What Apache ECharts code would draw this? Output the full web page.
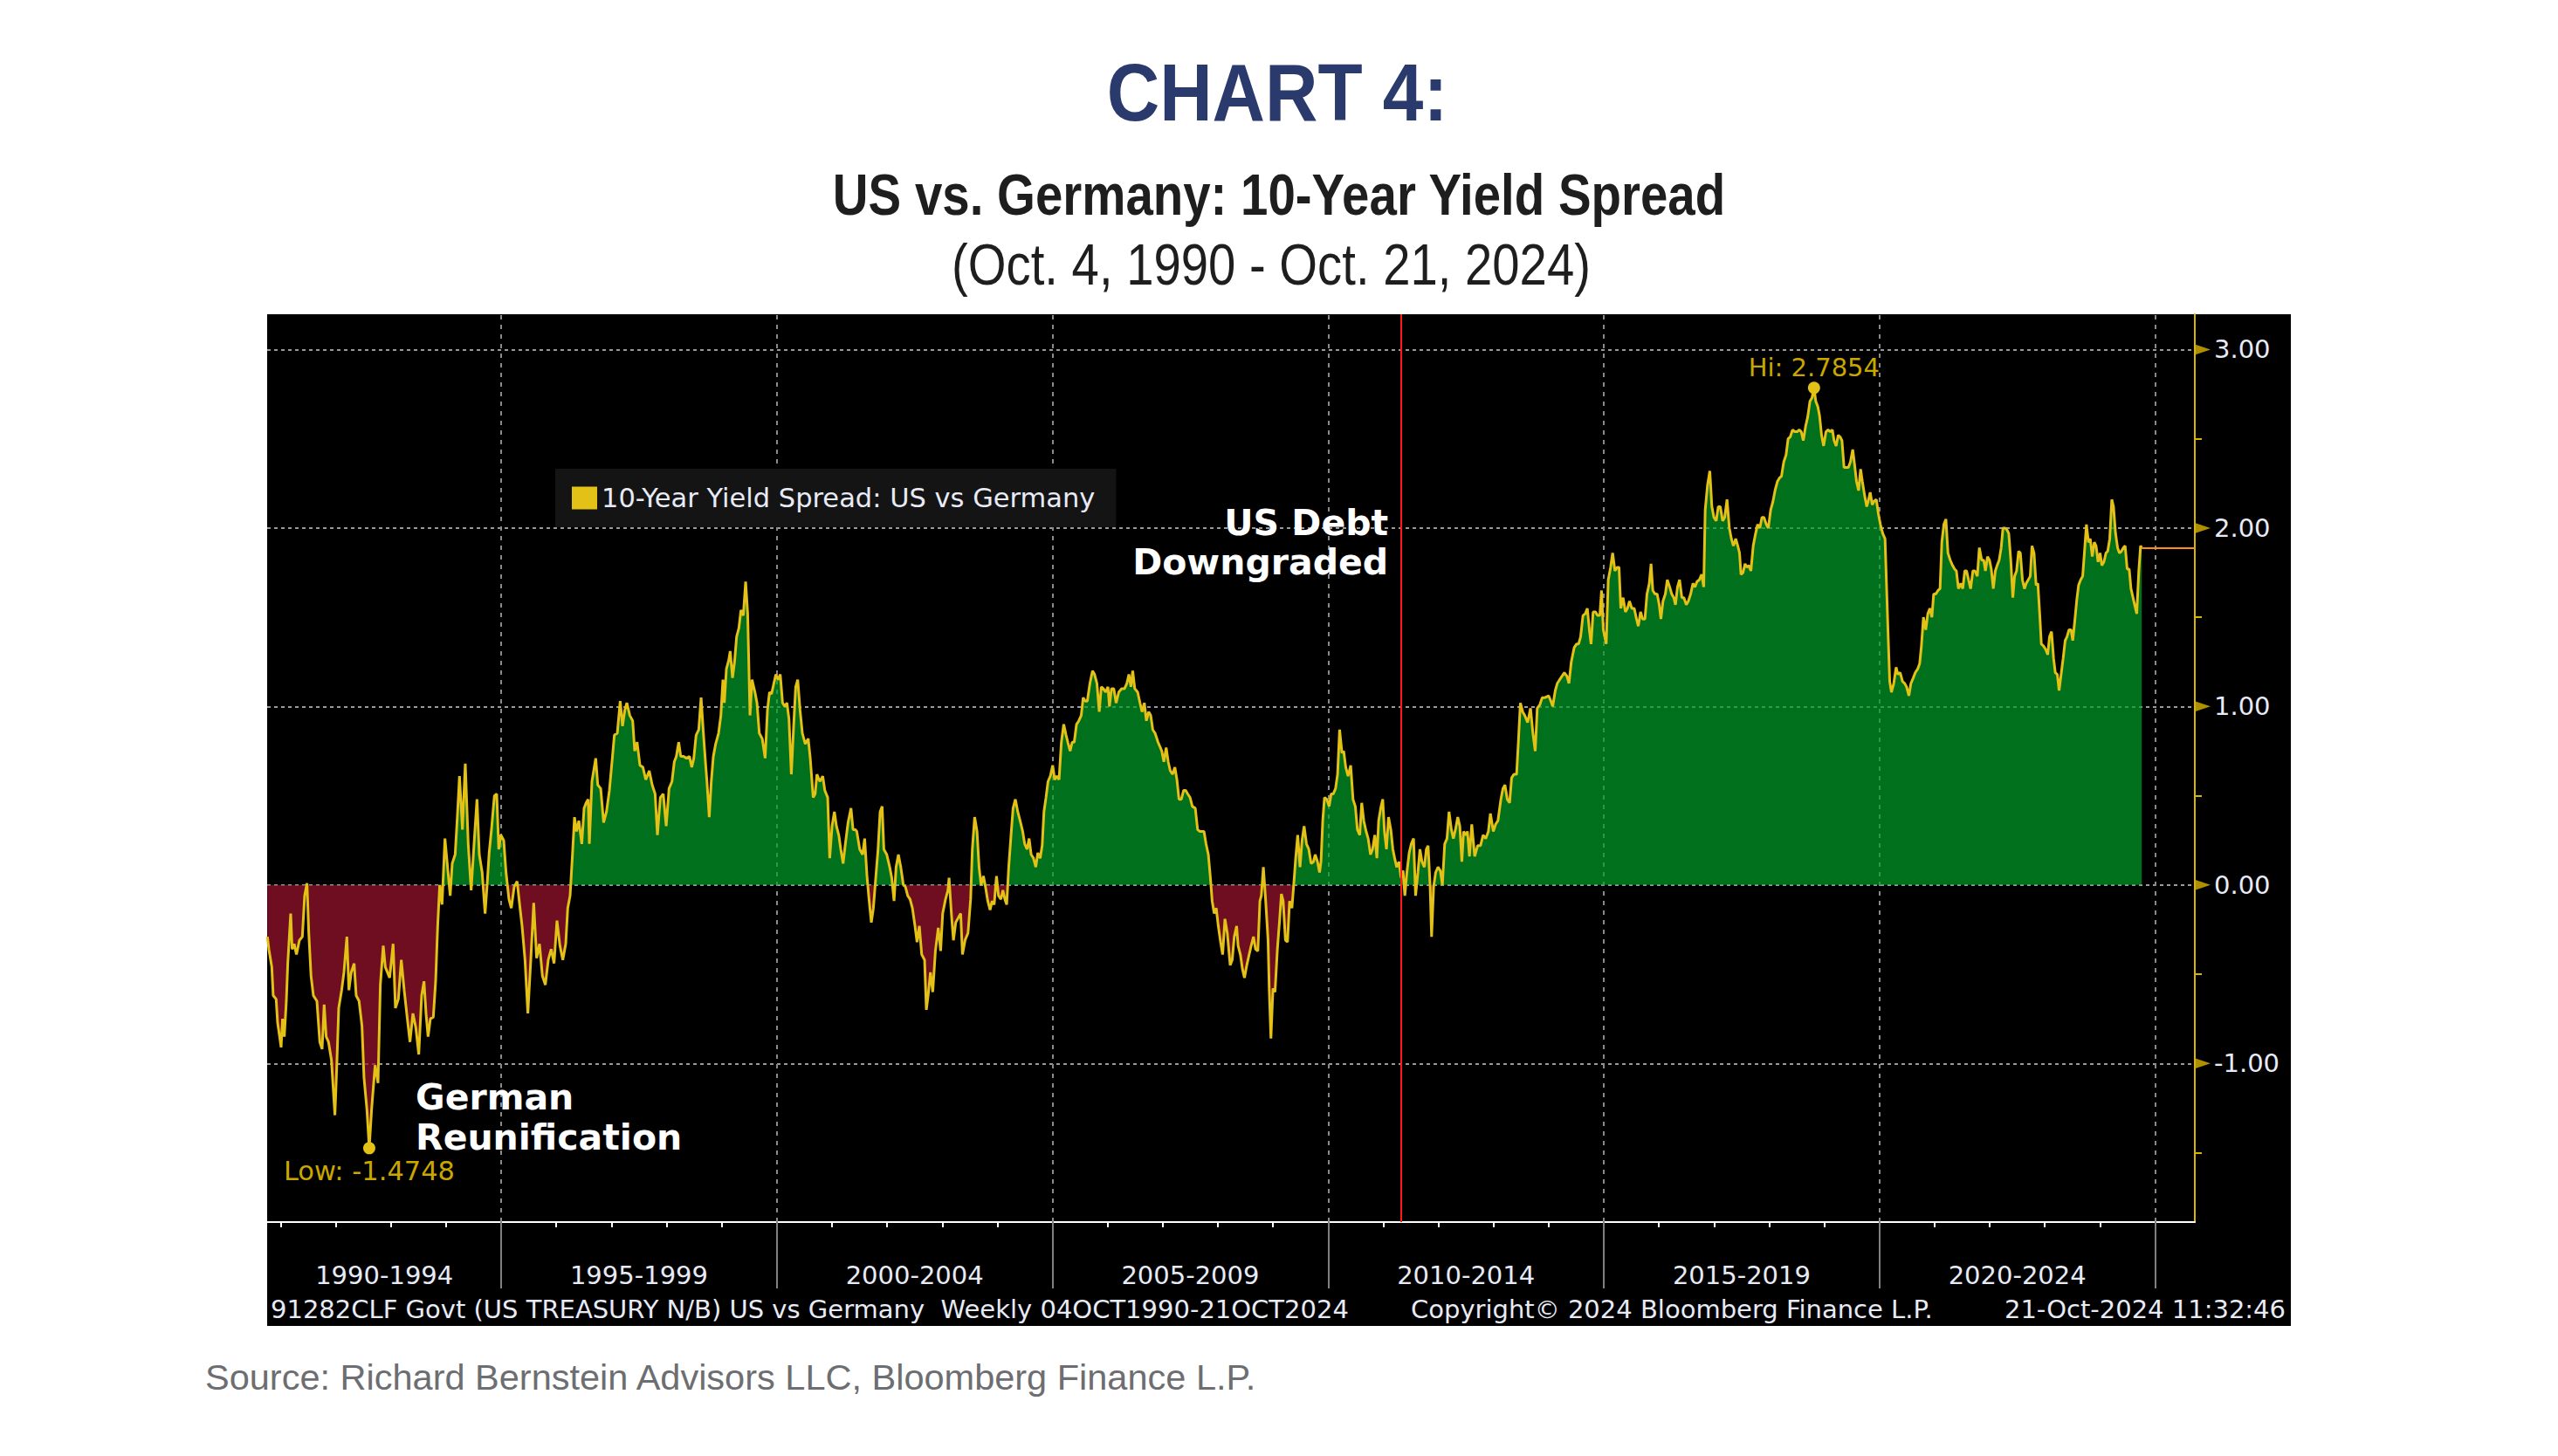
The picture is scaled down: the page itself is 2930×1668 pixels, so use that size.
<!DOCTYPE html>
<html><head><meta charset="utf-8">
<script src="https://cdn.jsdelivr.net/npm/echarts/dist/echarts.min.js"></script>
<style>html,body{margin:0;padding:0;background:#fff}#chart{width:2930px;height:1668px}</style>
</head><body><div id="chart"></div>
<script>
// ---- data: [decimal year, US-Germany 10Y spread] ----
const spread1990to1996 = [[1990.760,-0.29],[1990.786,-0.36],[1990.839,-0.46],[1990.865,-0.62],[1990.918,-0.64],[1990.944,-0.77],[1990.981,-0.85],[1991.008,-0.91],[1991.034,-0.75],[1991.066,-0.85],[1991.103,-0.65],[1991.129,-0.44],[1991.182,-0.16],[1991.208,-0.36],[1991.245,-0.33],[1991.287,-0.39],[1991.340,-0.31],[1991.393,-0.29],[1991.435,-0.06],[1991.478,0.01],[1991.509,-0.26],[1991.551,-0.51],[1991.594,-0.62],[1991.657,-0.65],[1991.710,-0.88],[1991.752,-0.92],[1991.789,-0.67],[1991.826,-0.85],[1991.868,-0.88],[1991.921,-0.98],[1991.984,-1.29],[1992.016,-1.03],[1992.053,-0.69],[1992.106,-0.59],[1992.148,-0.49],[1992.201,-0.29],[1992.238,-0.59],[1992.280,-0.49],[1992.333,-0.44],[1992.370,-0.62],[1992.422,-0.65],[1992.475,-0.79],[1992.512,-1.08],[1992.565,-1.26],[1992.607,-1.4748],[1992.649,-1.26],[1992.713,-1.01],[1992.766,-1.11],[1992.808,-0.56],[1992.861,-0.34],[1992.898,-0.46],[1992.977,-0.52],[1993.040,-0.33],[1993.082,-0.69],[1993.135,-0.64],[1993.188,-0.42],[1993.241,-0.59],[1993.294,-0.74],[1993.346,-0.88],[1993.399,-0.72],[1993.452,-0.80],[1993.505,-0.95],[1993.557,-0.62],[1993.600,-0.54],[1993.637,-0.72],[1993.674,-0.85],[1993.716,-0.75],[1993.769,-0.74],[1993.811,-0.54],[1993.848,-0.23],[1993.885,0.00],[1993.927,-0.11],[1993.980,0.26],[1994.033,0.08],[1994.075,-0.06],[1994.112,0.12],[1994.165,0.17],[1994.201,0.36],[1994.244,0.61],[1994.297,0.31],[1994.349,0.68],[1994.402,0.23],[1994.455,-0.03],[1994.508,0.23],[1994.561,0.48],[1994.603,0.17],[1994.655,0.07],[1994.708,-0.16],[1994.745,0.00],[1994.782,0.18],[1994.824,0.31],[1994.877,0.50],[1994.919,0.51],[1994.956,0.20],[1994.993,0.28],[1995.046,0.25],[1995.088,0.07],[1995.141,-0.08],[1995.183,-0.13],[1995.236,-0.01],[1995.289,0.02],[1995.342,-0.13],[1995.379,-0.23],[1995.432,-0.42],[1995.484,-0.72],[1995.537,-0.42],[1995.590,-0.10],[1995.643,-0.41],[1995.695,-0.33],[1995.748,-0.51],[1995.801,-0.56],[1995.854,-0.42],[1995.907,-0.36],[1995.959,-0.44],[1996.012,-0.20],[1996.065,-0.34],[1996.118,-0.42],[1996.171,-0.33],[1996.207,-0.13],[1996.250,-0.06]];
const spread1996to2001 = [[1996.293,0.17],[1996.330,0.38],[1996.367,0.30],[1996.409,0.36],[1996.462,0.23],[1996.504,0.43],[1996.541,0.46],[1996.578,0.48],[1996.599,0.23],[1996.646,0.58],[1996.715,0.71],[1996.752,0.56],[1996.805,0.54],[1996.858,0.35],[1996.910,0.41],[1996.963,0.53],[1997.016,0.71],[1997.053,0.84],[1997.106,0.85],[1997.159,1.03],[1997.201,0.89],[1997.243,0.98],[1997.280,1.02],[1997.333,0.95],[1997.385,0.92],[1997.422,0.75],[1997.465,0.80],[1997.517,0.67],[1997.570,0.66],[1997.623,0.59],[1997.686,0.64],[1997.739,0.56],[1997.792,0.51],[1997.834,0.28],[1997.887,0.49],[1997.940,0.51],[1997.993,0.33],[1998.045,0.54],[1998.098,0.58],[1998.140,0.69],[1998.177,0.72],[1998.220,0.80],[1998.257,0.72],[1998.309,0.72],[1998.362,0.71],[1998.415,0.72],[1998.457,0.66],[1998.494,0.71],[1998.536,0.84],[1998.584,0.87],[1998.626,1.05],[1998.668,0.85],[1998.705,0.69],[1998.732,0.58],[1998.774,0.38],[1998.811,0.58],[1998.848,0.72],[1998.890,0.79],[1998.943,0.85],[1998.985,0.95],[1999.022,1.15],[1999.048,1.02],[1999.085,1.21],[1999.128,1.26],[1999.154,1.31],[1999.196,1.16],[1999.233,1.25],[1999.270,1.39],[1999.312,1.44],[1999.349,1.54],[1999.392,1.51],[1999.434,1.70],[1999.471,1.52],[1999.513,0.95],[1999.550,1.15],[1999.603,1.08],[1999.640,1.02],[1999.682,0.85],[1999.735,0.82],[1999.788,0.71],[1999.830,0.98],[1999.867,1.08],[1999.904,1.07],[1999.946,1.13],[1999.983,1.18],[2000.025,1.15],[2000.062,1.18],[2000.104,1.02],[2000.146,1.00],[2000.183,1.02],[2000.220,0.93],[2000.263,0.62],[2000.305,0.89],[2000.342,1.11],[2000.379,1.15],[2000.421,0.98],[2000.463,0.85],[2000.516,0.79],[2000.569,0.82],[2000.606,0.71],[2000.659,0.49],[2000.695,0.51],[2000.727,0.62],[2000.780,0.58],[2000.833,0.61],[2000.870,0.53],[2000.922,0.49],[2000.959,0.15],[2001.002,0.33],[2001.044,0.41],[2001.081,0.33],[2001.123,0.28],[2001.160,0.20],[2001.202,0.12],[2001.239,0.22],[2001.292,0.35],[2001.345,0.43],[2001.382,0.31],[2001.424,0.31]];
const spread2001to2007 = [[2001.450,0.30],[2001.503,0.20],[2001.556,0.17],[2001.593,0.26],[2001.635,0.05],[2001.672,-0.08],[2001.714,-0.21],[2001.751,-0.13],[2001.794,0.04],[2001.836,0.20],[2001.873,0.41],[2001.910,0.44],[2001.941,0.20],[2001.994,0.17],[2002.047,0.10],[2002.084,0.04],[2002.126,-0.09],[2002.163,0.10],[2002.205,0.17],[2002.248,0.10],[2002.295,0.00],[2002.332,-0.01],[2002.374,-0.06],[2002.416,-0.08],[2002.459,-0.13],[2002.506,-0.23],[2002.543,-0.32],[2002.585,-0.23],[2002.628,-0.39],[2002.680,-0.42],[2002.712,-0.70],[2002.744,-0.62],[2002.786,-0.49],[2002.828,-0.60],[2002.876,-0.37],[2002.928,-0.24],[2002.971,-0.37],[2003.008,-0.16],[2003.060,-0.08],[2003.103,-0.03],[2003.124,0.04],[2003.166,-0.16],[2003.203,-0.31],[2003.245,-0.21],[2003.298,-0.18],[2003.335,-0.16],[2003.367,-0.39],[2003.414,-0.31],[2003.467,-0.27],[2003.515,-0.08],[2003.546,0.20],[2003.588,0.38],[2003.631,0.30],[2003.668,0.10],[2003.705,0.00],[2003.747,0.05],[2003.784,-0.01],[2003.826,-0.09],[2003.868,-0.14],[2003.905,-0.09],[2003.942,-0.11],[2003.984,0.05],[2004.021,-0.06],[2004.064,-0.08],[2004.100,-0.03],[2004.137,-0.08],[2004.169,-0.11],[2004.206,0.10],[2004.248,0.28],[2004.285,0.43],[2004.327,0.48],[2004.370,0.41],[2004.412,0.36],[2004.459,0.30],[2004.496,0.23],[2004.539,0.20],[2004.576,0.26],[2004.613,0.17],[2004.655,0.15],[2004.697,0.10],[2004.734,0.18],[2004.776,0.15],[2004.813,0.22],[2004.845,0.41],[2004.882,0.49],[2004.919,0.58],[2004.961,0.61],[2005.003,0.67],[2005.040,0.59],[2005.077,0.61],[2005.119,0.59],[2005.161,0.80],[2005.204,0.90],[2005.246,0.84],[2005.278,0.80],[2005.320,0.75],[2005.357,0.80],[2005.394,0.80],[2005.436,0.90],[2005.478,0.92],[2005.521,0.95],[2005.557,1.05],[2005.595,1.03],[2005.631,1.03],[2005.679,1.13],[2005.726,1.20],[2005.763,1.18],[2005.806,1.13],[2005.848,0.97],[2005.885,1.11],[2005.922,1.10],[2005.964,1.08],[2006.006,1.11],[2006.033,1.00],[2006.070,1.10],[2006.112,1.10],[2006.154,1.02],[2006.202,1.08],[2006.254,1.10],[2006.307,1.10],[2006.349,1.13],[2006.386,1.18],[2006.423,1.11],[2006.455,1.20],[2006.492,1.10],[2006.545,1.08],[2006.587,1.02],[2006.624,0.97],[2006.666,1.02],[2006.703,0.92],[2006.745,0.97],[2006.782,0.95],[2006.819,0.87],[2006.861,0.85],[2006.914,0.80],[2006.956,0.77]];
const spread2007to2012 = [[2006.983,0.75],[2007.020,0.69],[2007.062,0.77],[2007.099,0.69],[2007.136,0.64],[2007.178,0.62],[2007.220,0.66],[2007.257,0.59],[2007.294,0.48],[2007.337,0.48],[2007.379,0.53],[2007.416,0.53],[2007.453,0.51],[2007.495,0.49],[2007.537,0.44],[2007.590,0.43],[2007.632,0.31],[2007.669,0.30],[2007.706,0.30],[2007.748,0.30],[2007.785,0.23],[2007.827,0.17],[2007.864,0.04],[2007.896,-0.09],[2007.933,-0.16],[2007.970,-0.13],[2008.007,-0.23],[2008.049,-0.32],[2008.086,-0.39],[2008.128,-0.19],[2008.171,-0.27],[2008.223,-0.45],[2008.260,-0.42],[2008.297,-0.29],[2008.340,-0.23],[2008.366,-0.34],[2008.408,-0.39],[2008.445,-0.47],[2008.482,-0.52],[2008.524,-0.45],[2008.567,-0.39],[2008.604,-0.34],[2008.646,-0.29],[2008.683,-0.36],[2008.725,-0.37],[2008.762,-0.09],[2008.788,-0.06],[2008.825,0.10],[2008.867,-0.09],[2008.910,-0.31],[2008.931,-0.58],[2008.962,-0.86],[2008.999,-0.58],[2009.036,-0.60],[2009.079,-0.36],[2009.121,-0.19],[2009.152,-0.05],[2009.184,-0.09],[2009.226,-0.31],[2009.263,-0.32],[2009.300,-0.09],[2009.343,-0.13],[2009.385,0.04],[2009.411,0.15],[2009.448,0.28],[2009.490,0.10],[2009.527,0.25],[2009.564,0.33],[2009.607,0.23],[2009.649,0.20],[2009.691,0.12],[2009.733,0.13],[2009.765,0.17],[2009.807,0.13],[2009.844,0.07],[2009.870,0.13],[2009.902,0.36],[2009.934,0.49],[2009.976,0.48],[2010.018,0.44],[2010.055,0.51],[2010.092,0.51],[2010.134,0.54],[2010.171,0.62],[2010.208,0.87],[2010.250,0.74],[2010.282,0.75],[2010.319,0.66],[2010.361,0.61],[2010.409,0.67],[2010.451,0.48],[2010.493,0.44],[2010.530,0.31],[2010.573,0.28],[2010.609,0.46],[2010.646,0.36],[2010.689,0.30],[2010.726,0.26],[2010.768,0.17],[2010.805,0.20],[2010.847,0.28],[2010.884,0.15],[2010.916,0.36],[2010.953,0.43],[2010.990,0.48],[2011.021,0.30],[2011.058,0.20],[2011.095,0.38],[2011.137,0.31],[2011.174,0.20],[2011.206,0.15],[2011.243,0.10],[2011.285,0.13],[2011.322,0.04],[2011.359,0.08],[2011.391,-0.06],[2011.428,0.07],[2011.470,0.18],[2011.507,0.23],[2011.549,0.26],[2011.586,-0.06],[2011.628,0.07],[2011.665,0.20],[2011.702,0.13],[2011.745,0.10],[2011.781,0.20],[2011.813,0.22],[2011.850,-0.01],[2011.876,-0.29],[2011.913,-0.01],[2011.950,0.07],[2011.993,0.10],[2012.035,0.08],[2012.072,0.00],[2012.114,0.23],[2012.156,0.26],[2012.193,0.41],[2012.235,0.31],[2012.272,0.26],[2012.309,0.31],[2012.351,0.38],[2012.388,0.33],[2012.425,0.13],[2012.457,0.30],[2012.499,0.28]];
const spread2012to2018 = [[2012.526,0.30],[2012.563,0.16],[2012.605,0.34],[2012.658,0.16],[2012.711,0.22],[2012.763,0.22],[2012.811,0.28],[2012.858,0.26],[2012.906,0.30],[2012.943,0.40],[2012.996,0.30],[2013.038,0.34],[2013.080,0.36],[2013.133,0.48],[2013.170,0.54],[2013.207,0.56],[2013.249,0.48],[2013.291,0.46],[2013.328,0.60],[2013.370,0.62],[2013.418,0.62],[2013.450,0.80],[2013.487,1.02],[2013.529,0.97],[2013.566,0.95],[2013.619,0.91],[2013.671,0.99],[2013.714,0.85],[2013.756,0.75],[2013.793,0.99],[2013.840,1.01],[2013.883,1.05],[2013.935,1.05],[2013.999,1.06],[2014.041,1.03],[2014.073,1.00],[2014.120,1.09],[2014.157,1.13],[2014.199,1.15],[2014.242,1.17],[2014.284,1.19],[2014.331,1.17],[2014.368,1.13],[2014.410,1.25],[2014.463,1.33],[2014.505,1.35],[2014.542,1.35],[2014.579,1.39],[2014.622,1.51],[2014.664,1.52],[2014.701,1.55],[2014.738,1.43],[2014.769,1.35],[2014.806,1.53],[2014.849,1.53],[2014.886,1.51],[2014.928,1.51],[2014.959,1.65],[2014.991,1.43],[2015.018,1.39],[2015.044,1.35],[2015.081,1.71],[2015.123,1.78],[2015.160,1.86],[2015.202,1.76],[2015.244,1.78],[2015.276,1.78],[2015.308,1.55],[2015.350,1.61],[2015.392,1.53],[2015.429,1.55],[2015.466,1.59],[2015.508,1.55],[2015.551,1.55],[2015.593,1.49],[2015.625,1.45],[2015.667,1.53],[2015.704,1.49],[2015.746,1.49],[2015.783,1.63],[2015.825,1.69],[2015.857,1.80],[2015.889,1.65],[2015.931,1.63],[2015.968,1.63],[2016.005,1.57],[2016.036,1.49],[2016.073,1.59],[2016.116,1.63],[2016.152,1.71],[2016.195,1.67],[2016.232,1.63],[2016.269,1.61],[2016.300,1.57],[2016.337,1.67],[2016.374,1.71],[2016.416,1.61],[2016.453,1.61],[2016.496,1.57],[2016.533,1.59],[2016.575,1.63],[2016.617,1.69],[2016.654,1.67],[2016.691,1.70],[2016.733,1.71],[2016.775,1.74],[2016.812,1.67],[2016.839,2.10],[2016.881,2.24],[2016.923,2.32],[2016.960,2.12],[2016.997,2.06],[2017.039,2.04],[2017.076,2.12],[2017.113,2.12],[2017.156,2.04],[2017.193,2.06],[2017.235,2.16],[2017.277,2.00],[2017.314,1.94],[2017.351,1.90],[2017.393,1.94],[2017.430,1.90],[2017.462,1.86],[2017.488,1.74],[2017.525,1.75],[2017.562,1.80],[2017.594,1.78],[2017.631,1.79],[2017.668,1.76],[2017.710,1.90],[2017.747,1.96],[2017.789,2.02],[2017.831,2.00],[2017.868,2.06],[2017.905,2.06],[2017.947,2.02],[2017.984,2.00],[2018.026,2.10]];
const spread2018to2024 = [[2018.069,2.15],[2018.106,2.21],[2018.148,2.26],[2018.185,2.28],[2018.222,2.29],[2018.264,2.37],[2018.306,2.41],[2018.343,2.50],[2018.380,2.51],[2018.423,2.55],[2018.465,2.54],[2018.507,2.54],[2018.544,2.55],[2018.581,2.54],[2018.618,2.49],[2018.660,2.57],[2018.697,2.62],[2018.739,2.71],[2018.776,2.73],[2018.813,2.7854],[2018.845,2.71],[2018.882,2.68],[2018.913,2.63],[2018.950,2.52],[2018.987,2.46],[2019.030,2.54],[2019.067,2.55],[2019.109,2.54],[2019.146,2.55],[2019.177,2.49],[2019.214,2.46],[2019.251,2.52],[2019.288,2.51],[2019.320,2.49],[2019.357,2.34],[2019.399,2.34],[2019.436,2.34],[2019.473,2.37],[2019.515,2.44],[2019.547,2.36],[2019.584,2.26],[2019.621,2.21],[2019.658,2.33],[2019.690,2.26],[2019.732,2.18],[2019.769,2.12],[2019.795,2.15],[2019.832,2.20],[2019.869,2.13],[2019.901,2.15],[2019.943,2.16],[2019.980,2.08],[2020.017,2.02],[2020.059,1.97],[2020.101,1.94],[2020.128,1.68],[2020.154,1.43],[2020.186,1.14],[2020.217,1.08],[2020.260,1.13],[2020.302,1.22],[2020.334,1.18],[2020.376,1.19],[2020.418,1.14],[2020.455,1.13],[2020.492,1.11],[2020.534,1.06],[2020.571,1.13],[2020.613,1.16],[2020.650,1.19],[2020.693,1.21],[2020.729,1.24],[2020.761,1.34],[2020.798,1.50],[2020.840,1.43],[2020.877,1.52],[2020.914,1.55],[2020.951,1.50],[2020.983,1.63],[2021.020,1.63],[2021.062,1.65],[2021.099,1.66],[2021.131,1.92],[2021.168,2.02],[2021.205,2.05],[2021.242,1.86],[2021.284,1.82],[2021.326,1.79],[2021.363,1.77],[2021.395,1.76],[2021.432,1.66],[2021.474,1.69],[2021.511,1.66],[2021.548,1.76],[2021.580,1.76],[2021.616,1.71],[2021.653,1.66],[2021.695,1.76],[2021.732,1.76],[2021.775,1.73],[2021.812,1.89],[2021.854,1.82],[2021.891,1.82],[2021.922,1.76],[2021.960,1.84],[2021.996,1.82],[2022.028,1.77],[2022.065,1.66],[2022.102,1.76],[2022.134,1.79],[2022.171,1.82],[2022.208,1.89],[2022.240,2.00],[2022.276,2.00],[2022.313,1.99],[2022.345,1.97],[2022.382,1.82],[2022.419,1.61],[2022.451,1.73],[2022.487,1.76],[2022.524,1.87],[2022.556,1.86],[2022.593,1.71],[2022.630,1.66],[2022.662,1.69],[2022.699,1.71],[2022.735,1.73],[2022.767,1.90],[2022.804,1.86],[2022.841,1.68],[2022.873,1.69],[2022.910,1.50],[2022.936,1.35],[2022.973,1.34],[2023.015,1.32],[2023.052,1.29],[2023.084,1.39],[2023.121,1.42],[2023.158,1.27],[2023.189,1.19],[2023.226,1.18],[2023.258,1.09],[2023.295,1.18],[2023.332,1.27],[2023.369,1.37],[2023.401,1.39],[2023.438,1.43],[2023.475,1.43],[2023.506,1.37],[2023.543,1.48],[2023.580,1.60],[2023.612,1.68],[2023.649,1.71],[2023.686,1.73],[2023.717,1.86],[2023.754,2.02],[2023.791,1.92],[2023.823,1.94],[2023.860,1.84],[2023.897,1.92],[2023.929,1.90],[2023.965,1.81],[2024.002,1.86],[2024.034,1.79],[2024.071,1.81],[2024.108,1.86],[2024.140,1.87],[2024.177,1.94],[2024.214,2.16],[2024.245,2.12],[2024.282,1.97],[2024.319,1.89],[2024.351,1.86],[2024.388,1.87],[2024.425,1.89],[2024.456,1.90],[2024.493,1.77],[2024.530,1.77],[2024.562,1.66],[2024.599,1.61],[2024.636,1.56],[2024.667,1.52],[2024.704,1.76],[2024.736,1.90],[2024.757,1.89]];

const periodLabels   = ['1990-1994','1995-1999','2000-2004','2005-2009','2010-2014','2015-2019','2020-2024'];
const periodLabelAt  = [1992.88, 1997.5, 2002.5, 2007.5, 2012.5, 2017.5, 2022.5];
const periodDividers = [1995, 2000, 2005, 2010, 2015, 2020, 2025];
const yLabelValues   = [-1, 0, 1, 2, 3];
const yHalfTicks     = [-1.5, -0.5, 0.5, 1.5, 2.5];
const hiPoint  = [2018.813, 2.7854];
const lowPoint = [1992.607, -1.4748];
const downgradeDate = 2011.32;
const lastPoint = [2024.757, 1.89];
const annotations = [
  { text: 'German\nReunification', at: [1993.44, -1.30], side: 'right', lh: 46 },
  { text: 'US Debt\nDowngraded',   at: [2011.32, 1.917], side: 'left',  lh: 45 }
];
const seriesName = '10-Year Yield Spread: US vs Germany';

// ---- chart ----
const spread = [].concat(spread1990to1996, spread1996to2001, spread2001to2007, spread2007to2012, spread2012to2018, spread2018to2024);
const X_MIN = 1990.755, X_MAX = 2025.72, Y_MIN = -1.889, Y_MAX = 3.198;
const YELLOW = '#e3c116', AXISY = '#d9b400', TXT = '#e8ebf6';
const GREEN = '#00a028', RED = '#9d142e';
const BB = "'DejaVu Sans', Verdana, sans-serif";
const ARIAL = "'Liberation Sans', Arial, sans-serif";
const yearTicks = [];
for (let y = 1991; y <= 2025; y++) yearTicks.push(y);

// area fill: green above zero, red below (hard stop at zero within the polygon's value extent)
const vals = spread.map(p => p[1]);
const vMax = Math.max.apply(null, vals), vMin = Math.min.apply(null, vals);
const zeroAt = vMax / (vMax - vMin);
const areaFill = { type: 'linear', x: 0, y: 0, x2: 0, y2: 1, global: false, colorStops: [
  { offset: 0, color: GREEN }, { offset: zeroAt, color: GREEN },
  { offset: zeroAt, color: RED }, { offset: 1, color: RED } ] };

function txt(text, x, y, font, fill, align, sx) {
  return { type: 'text', z: 10, x: x, y: y, scaleX: sx || 1, silent: true,
    style: { text: text, font: font, fill: fill, align: align, textAlign: align,
             verticalAlign: 'middle', textVerticalAlign: 'middle' } };
}

const chart = echarts.init(document.getElementById('chart'), null, { renderer: 'svg' });
chart.setOption({
  backgroundColor: '#ffffff',
  animation: false,
  graphic: { elements: [
    { type: 'rect', z: -10, silent: true, shape: { x: 306, y: 360, width: 2318, height: 1159 }, style: { fill: '#000000' } },
    txt('CHART 4:', 1463, 106, 'bold 92px ' + ARIAL, '#2b3a6c', 'center', 0.91),
    txt('US vs. Germany: 10-Year Yield Spread', 1465, 223, 'bold 66px ' + ARIAL, '#1e1e1e', 'center', 0.855),
    txt('(Oct. 4, 1990 - Oct. 21, 2024)', 1456, 303, 'normal 67px ' + ARIAL, '#1e1e1e', 'center', 0.84),
    txt('91282CLF Govt (US TREASURY N/B) US vs Germany  Weekly 04OCT1990-21OCT2024', 310, 1500, 'normal 29px ' + BB, TXT, 'left'),
    txt('Copyright\u00A9 2024 Bloomberg Finance L.P.', 1616, 1500, 'normal 29px ' + BB, TXT, 'left'),
    txt('21-Oct-2024 11:32:46', 2618, 1500, 'normal 29px ' + BB, TXT, 'right'),
    txt('Source: Richard Bernstein Advisors LLC, Bloomberg Finance L.P.', 235, 1577, 'normal 41.5px ' + ARIAL, '#6d6e71', 'left')
  ]},
  legend: {
    show: true, data: [seriesName], left: 636, top: 537, icon: 'rect', itemWidth: 29, itemHeight: 26,
    padding: [18, 24, 18, 19], backgroundColor: '#141414', selectedMode: false,
    textStyle: { color: TXT, fontFamily: BB, fontSize: 30.5 }
  },
  grid: [
    { left: 306, right: 416, top: 360, height: 1040, containLabel: false, outerBoundsMode: 'none' },
    { left: 306, right: 416, top: 1400, height: 76, containLabel: false, outerBoundsMode: 'none' }
  ],
  xAxis: [
    { type: 'value', gridIndex: 0, min: X_MIN, max: X_MAX,
      axisLine: { show: true, onZero: false, lineStyle: { color: '#ffffff', width: 2 } },
      axisTick: { show: true, customValues: yearTicks, length: 6, inside: false, lineStyle: { color: '#ffffff', width: 2 } },
      axisLabel: { show: true, customValues: periodLabelAt, margin: 46, color: TXT, fontFamily: BB, fontSize: 29,
        formatter: v => { const i = periodLabelAt.findIndex(p => Math.abs(p - v) < 0.01); return i >= 0 ? periodLabels[i] : ''; } },
      splitLine: { show: false } },
    { type: 'value', gridIndex: 1, min: X_MIN, max: X_MAX, show: false }
  ],
  yAxis: [
    { type: 'value', gridIndex: 0, position: 'right', min: Y_MIN, max: Y_MAX,
      axisLine: { show: true, onZero: false, lineStyle: { color: AXISY, width: 2 } },
      axisTick: { show: true, customValues: yHalfTicks, length: 8, inside: false, lineStyle: { color: AXISY, width: 2 } },
      axisLabel: { show: true, customValues: yLabelValues, margin: 22, color: TXT, fontFamily: BB, fontSize: 29,
        formatter: v => v.toFixed(2) },
      splitLine: { show: false } },
    { type: 'value', gridIndex: 1, min: 0, max: 1, show: false }
  ],
  series: [
    { type: 'line', name: 'area', xAxisIndex: 0, yAxisIndex: 0, data: spread, symbol: 'none', showSymbol: false,
      color: GREEN, lineStyle: { width: 0, opacity: 0 }, areaStyle: { opacity: 0.7, color: areaFill }, z: 2, silent: true,
      markLine: { z: 1, silent: true, symbol: ['none', 'none'], label: { show: false },
        data: yLabelValues.map(v => ({ yAxis: v, lineStyle: { type: [4, 4], color: '#9a9a9a', width: 2 } }))
          .concat(periodDividers.map(d => ({ xAxis: d, lineStyle: { type: [5, 6], color: '#8a8a8a', width: 2 } }))) } },
    { type: 'line', name: seriesName, xAxisIndex: 0, yAxisIndex: 0, data: spread, symbol: 'none', showSymbol: false,
      color: YELLOW, lineStyle: { color: YELLOW, width: 3 }, z: 3, silent: true,
      markLine: { z: 5, silent: true, symbol: ['none', 'none'], label: { show: false },
        data: [
          { xAxis: downgradeDate, lineStyle: { color: '#ff1a1a', width: 2, type: 'solid' } },
          [ { coord: lastPoint, lineStyle: { color: '#ff8c1a', width: 2, type: 'solid' } }, { coord: [X_MAX, lastPoint[1]] } ]
        ] },
      markPoint: { z: 6, silent: true,
        data: [
          { coord: hiPoint, symbol: 'circle', symbolSize: 14, itemStyle: { color: YELLOW },
            label: { show: true, position: 'top', distance: 2, formatter: 'Hi: ' + hiPoint[1].toFixed(4), color: '#c9a700', fontFamily: BB, fontSize: 29 } },
          { coord: lowPoint, symbol: 'circle', symbolSize: 14, itemStyle: { color: YELLOW },
            label: { show: true, position: 'bottom', distance: 4, formatter: 'Low: ' + lowPoint[1].toFixed(4), color: '#c9a700', fontFamily: BB, fontSize: 30.5 } }
        ].concat(annotations.map(a => ({
          coord: a.at, symbol: 'circle', symbolSize: 1, itemStyle: { color: 'rgba(0,0,0,0)' },
          label: { show: true, position: a.side, distance: a.side === 'left' ? 14 : 0, formatter: a.text,
                   color: '#ffffff', fontFamily: BB, fontWeight: 'bold', fontSize: 41, lineHeight: a.lh,
                   align: a.side === 'left' ? 'right' : 'left' } })))
      } },
    { type: 'scatter', name: 'arrows', xAxisIndex: 0, yAxisIndex: 0, data: yLabelValues.map(v => [X_MAX, v]),
      symbol: 'triangle', symbolSize: [12, 18], symbolRotate: -90, symbolOffset: [9, 0],
      itemStyle: { color: AXISY }, clip: false, silent: true, z: 4 },
    { type: 'line', name: 'dividers', xAxisIndex: 1, yAxisIndex: 1, data: [], silent: true,
      markLine: { silent: true, symbol: ['none', 'none'], label: { show: false },
        lineStyle: { color: '#808080', width: 2, type: 'solid' },
        data: periodDividers.map(d => ({ xAxis: d })) } }
  ]
});
</script>
</body></html>
